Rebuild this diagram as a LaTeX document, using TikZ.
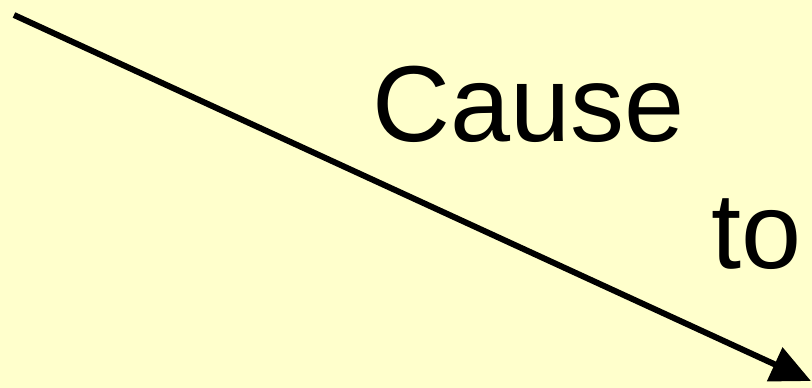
\documentclass[tikz,border=0pt]{standalone}
\usepackage{fontspec}
\setmainfont{Liberation Sans}
\usepackage{tikz}
\usepackage{xcolor}
\usetikzlibrary{arrows.meta, positioning}
\definecolor{Slide_Yellow}{HTML}{FFFFCC}

\begin{document}
\begin{tikzpicture}[x=1pt, y=-1pt]
    % Slide background
    \fill[Slide_Yellow] (0,0) rectangle (812,388);
    \useasboundingbox (0,0) rectangle (812,388);

    % Words
    \node[anchor=base west, inner sep=0pt, font=\fontsize{108}{120}\selectfont] (cause) at (372,141) {Cause};
    \node[anchor=base west, inner sep=0pt, font=\fontsize{108}{120}\selectfont] (to) at (711,268) {to};

    % Arrow
    \coordinate (start) at (14,15);
    \coordinate (tip) at (811,381);
    \draw[-{Triangle[length=40pt, width=36pt]}, line width=6pt, black] (start) -- (tip);
\end{tikzpicture}
\end{document}
